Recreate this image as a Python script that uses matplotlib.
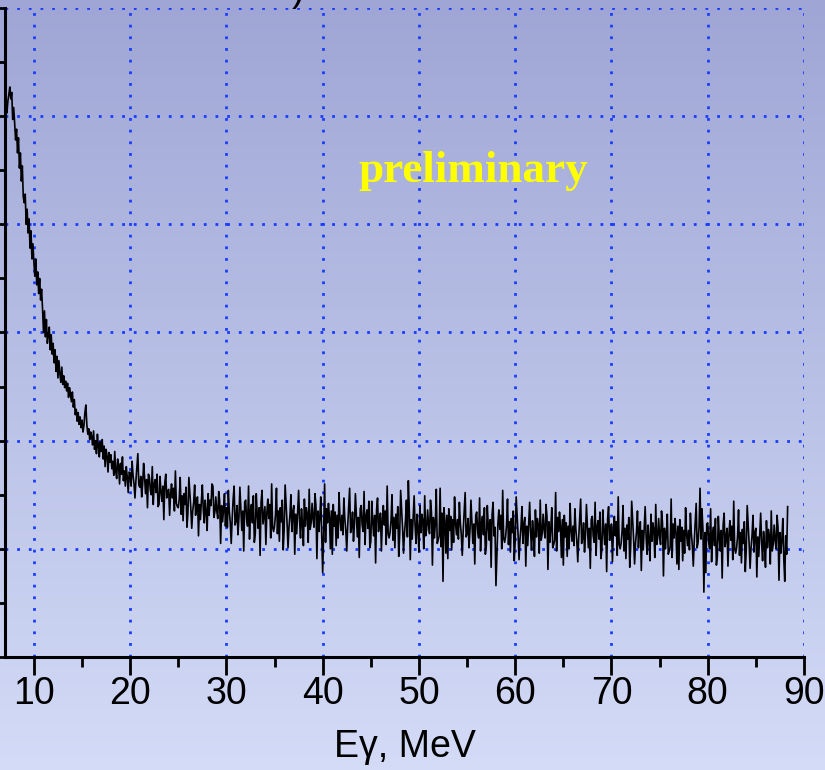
import numpy as np
import matplotlib
matplotlib.use("Agg")
import matplotlib.pyplot as plt
from matplotlib.colors import LinearSegmentedColormap

# ---- data (spectrum, counts in arbitrary units x100), 0.1 MeV channels ----
e_start = 7.0      # MeV, first channel
e_step = 0.1       # MeV per channel
counts = [
    500, 507, 503, 514, 520, 527, 516, 522, 497, 508,   # 7
    494, 478, 488, 466, 480, 452, 466, 440, 454, 425,   # 8
    420, 428, 400, 414, 392, 405, 378, 394, 368, 382,   # 9
    365, 352, 368, 344, 356, 336, 350, 330, 340, 322,   # 10
    300, 320, 296, 312, 290, 298, 305, 284, 298, 280,   # 11
    290, 272, 284, 264, 278, 258, 274, 262, 254, 268,   # 12
    252, 260, 249, 255, 246, 253, 240, 249, 243, 236,   # 13
    245, 231, 238, 224, 229, 218, 226, 215, 222, 212,   # 14
    219, 208, 214, 226, 233, 215, 206, 211, 201, 208,   # 15
    204, 196, 209, 192, 200, 188, 206, 194, 185, 199,   # 16
    190, 201, 183, 195, 176, 192, 186, 171, 189, 180,   # 17
    187, 174, 181, 168, 190, 172, 165, 183, 177, 160,   # 18
    179, 169, 185, 163, 172, 158, 176, 166, 152, 171,   # 19
    170, 158, 181, 168, 160, 147, 163, 176, 188, 159,   # 20
    157, 167, 148, 160, 179, 166, 151, 164, 138, 169,   # 21
    166, 154, 150, 176, 141, 160, 164, 152, 169, 139,   # 22
    141, 167, 153, 144, 158, 127, 161, 169, 147, 153,   # 23
    155, 131, 151, 160, 147, 156, 135, 172, 142, 139,   # 24
    138, 146, 166, 132, 149, 126, 151, 141, 157, 120,   # 25
    133, 166, 152, 138, 119, 135, 143, 159, 131, 146,   # 26
    148, 112, 141, 127, 144, 159, 136, 124, 145, 134,   # 27
    117, 151, 131, 145, 140, 160, 158, 129, 134, 148,   # 28
    135, 128, 153, 144, 105, 140, 125, 136, 151, 121,   # 29
    138, 120, 154, 135, 124, 105, 128, 146, 158, 122,   # 30
    126, 140, 113, 129, 157, 138, 117, 135, 98, 143,    # 31
    145, 127, 121, 158, 109, 135, 141, 124, 149, 106,   # 32
    114, 151, 132, 119, 138, 94, 143, 154, 123, 131,    # 33
    139, 104, 133, 146, 128, 141, 110, 160, 120, 116,   # 34
    121, 132, 156, 114, 135, 107, 138, 125, 145, 99,    # 35
    118, 159, 142, 124, 101, 120, 131, 150, 116, 134,   # 36
    140, 95, 132, 114, 135, 154, 126, 110, 137, 123,    # 37
    103, 146, 121, 138, 132, 106, 155, 118, 124, 142,   # 38
    128, 120, 151, 140, 91, 135, 116, 129, 148, 111,    # 39
    78, 116, 160, 106, 137, 124, 142, 129, 100, 135,    # 40
    95, 141, 121, 134, 103, 131, 110, 152, 128, 117,    # 41
    131, 113, 147, 128, 117, 98, 121, 139, 156, 115,    # 42
    120, 134, 107, 123, 151, 132, 111, 129, 92, 137,    # 43
    140, 122, 116, 153, 104, 130, 136, 119, 144, 101,   # 44
    107, 144, 125, 112, 131, 87, 136, 147, 116, 124,    # 45
    133, 98, 127, 140, 122, 135, 104, 158, 114, 110,    # 46
    115, 126, 150, 108, 129, 101, 132, 119, 139, 93,    # 47
    113, 154, 137, 119, 96, 115, 126, 145, 111, 163,    # 48
    135, 90, 127, 109, 130, 149, 121, 105, 132, 118,    # 49
    97, 140, 115, 132, 126, 100, 149, 112, 118, 136,    # 50
    122, 114, 145, 134, 85, 129, 110, 123, 155, 105,    # 51
    108, 112, 156, 102, 133, 70, 138, 125, 96, 131,     # 52
    91, 137, 117, 130, 99, 127, 106, 148, 124, 113,     # 53
    127, 109, 143, 124, 113, 94, 117, 135, 152, 111,    # 54
    114, 128, 101, 117, 145, 126, 105, 123, 86, 131,    # 55
    134, 116, 110, 147, 98, 124, 130, 113, 138, 95,     # 56
    103, 140, 121, 108, 127, 83, 132, 143, 112, 120,    # 57
    66, 94, 123, 136, 118, 131, 100, 154, 110, 106,     # 58
    111, 122, 146, 104, 125, 97, 128, 115, 135, 89,     # 59
    107, 148, 131, 113, 90, 109, 120, 139, 105, 123,    # 60
    129, 84, 121, 103, 124, 143, 115, 99, 126, 112,     # 61
    93, 136, 111, 128, 122, 96, 145, 108, 114, 132,     # 62
    118, 110, 141, 130, 81, 125, 106, 119, 138, 101,    # 63
    104, 108, 152, 98, 129, 116, 134, 121, 92, 127,     # 64
    85, 131, 111, 124, 93, 121, 100, 142, 118, 107,     # 65
    121, 103, 137, 118, 107, 88, 111, 129, 146, 105,    # 66
    110, 124, 97, 113, 141, 122, 101, 119, 82, 127,     # 67
    130, 112, 106, 143, 94, 120, 126, 109, 134, 91,     # 68
    99, 136, 117, 104, 123, 79, 128, 139, 108, 116,     # 69
    123, 88, 117, 130, 112, 125, 94, 148, 104, 100,     # 70
    105, 116, 140, 98, 119, 91, 122, 109, 129, 83,      # 71
    103, 144, 127, 109, 86, 105, 116, 135, 101, 119,    # 72
    125, 80, 117, 99, 120, 139, 111, 95, 122, 108,      # 73
    89, 132, 107, 124, 118, 92, 141, 104, 110, 128,     # 74
    112, 104, 135, 124, 75, 119, 100, 113, 132, 95,     # 75
    98, 102, 146, 92, 123, 110, 128, 115, 86, 121,      # 76
    81, 127, 107, 120, 89, 117, 96, 138, 114, 103,      # 77
    117, 99, 133, 114, 103, 84, 107, 125, 142, 101,     # 78
    106, 120, 156, 109, 137, 118, 60, 115, 78, 123,     # 79
    124, 106, 100, 137, 88, 114, 120, 103, 128, 85,     # 80
    93, 130, 111, 98, 117, 73, 122, 133, 102, 110,      # 81
    119, 84, 113, 126, 108, 121, 90, 144, 100, 96,      # 82
    101, 112, 136, 94, 115, 87, 118, 105, 125, 79,      # 83
    99, 140, 123, 105, 82, 101, 112, 131, 97, 115,      # 84
    119, 74, 111, 93, 114, 133, 105, 89, 116, 102,      # 85
    83, 126, 101, 118, 112, 86, 135, 98, 104, 122,      # 86
    108, 100, 131, 120, 71, 115, 96, 109, 128, 91,      # 87
    70, 112, 95, 139,                                   # 88
]
xticks_major = [10, 20, 30, 40, 50, 60, 70, 80, 90]
xlabel = "Eγ, MeV"
annotation = "preliminary"

energy = e_start + e_step * np.arange(len(counts))

# ---- figure ----
W, H = 825, 770
fig = plt.figure(figsize=(W / 100, H / 100), dpi=100)

# background gradient
bg = fig.add_axes([0, 0, 1, 1], zorder=-10)
cmap = LinearSegmentedColormap.from_list("bg", ["#d3dbf7", "#9fa6d5"])
grad = np.linspace(0, 1, 256).reshape(-1, 1)
bg.imshow(grad, aspect="auto", cmap=cmap, origin="lower", extent=[0, 1, 0, 1])
bg.set_axis_off()

ax = fig.add_axes([5 / W, 1 - 657 / H, (804 - 5) / W, (657 - 8) / H])
ax.patch.set_alpha(0)

ax.plot(energy, counts, color="black", lw=1.2, zorder=3)

ax.set_xlim(7.0, 90)
ax.set_ylim(0, 600)

ax.set_xticks(xticks_major)
ax.set_xticks(np.arange(15, 90, 10), minor=True)
ax.set_yticks(np.arange(0, 601, 100))
ax.set_yticks(np.arange(50, 600, 100), minor=True)
ax.set_yticklabels([])

ax.tick_params(axis="x", which="major", direction="out", length=13, width=2,
               labelsize=27, pad=1, colors="black")
ax.tick_params(axis="x", which="minor", direction="out", length=7, width=2)
ax.tick_params(axis="y", which="both", direction="out", length=5, width=2)

for lbl in ax.get_xticklabels():
    lbl.set_fontfamily("Liberation Sans")

for s in ["top", "right"]:
    ax.spines[s].set_visible(False)
for s in ["left", "bottom"]:
    ax.spines[s].set_linewidth(2.2)

grid_kw = dict(color="#1a3cff", lw=2.0, linestyle=(0, (1, 3.2)), zorder=1)
for xv in xticks_major:
    ax.axvline(xv, **grid_kw)
for yv in range(100, 601, 100):
    ax.axhline(yv, **grid_kw)

ax.set_xlabel(xlabel, fontsize=27, fontfamily="Liberation Sans", labelpad=12)

fig.text(473 / W, 1 - 182 / H, annotation, ha="center", va="baseline",
         fontsize=32.5, fontweight="bold", fontfamily="Liberation Serif",
         color="#ffff00")

fig.text(292 / W, 1 - 9 / H, ")", ha="left", va="bottom", fontsize=27,
         fontfamily="Liberation Sans", color="black")

fig.savefig("out.png", dpi=100)
